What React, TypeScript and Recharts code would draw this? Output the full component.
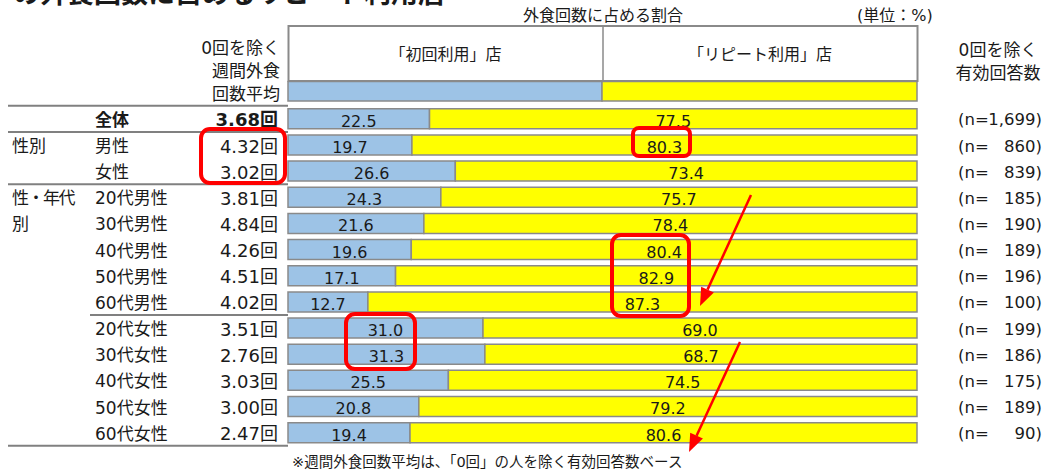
import { BarChart, Bar, XAxis, YAxis, LabelList } from "recharts";

// rows of the table
const categories = [
  "全体",
  "男性",
  "女性",
  "20代男性",
  "30代男性",
  "40代男性",
  "50代男性",
  "60代男性",
  "20代女性",
  "30代女性",
  "40代女性",
  "50代女性",
  "60代女性",
];
const groupLabels = ["", "性別", "", "性・年代", "別", "", "", "", "", "", "", "", ""];
const firstVisit = [22.5, 19.7, 26.6, 24.3, 21.6, 19.6, 17.1, 12.7, 31.0, 31.3, 25.5, 20.8, 19.4];
const repeatVisit = [77.5, 80.3, 73.4, 75.7, 78.4, 80.4, 82.9, 87.3, 69.0, 68.7, 74.5, 79.2, 80.6];
const avgVisits = ["3.68", "4.32", "3.02", "3.81", "4.84", "4.26", "4.51", "4.02", "3.51", "2.76", "3.03", "3.00", "2.47"];
const sampleSizes = [1699, 860, 839, 185, 190, 189, 196, 100, 199, 186, 175, 189, 90];

const W = 1047;
const H = 470;
const PLOT_LEFT = 288;
const PLOT_RIGHT = 917;
const PLOT_TOP = 105.8;
const PLOT_BOTTOM = 445.8;
const ROW_H = (PLOT_BOTTOM - PLOT_TOP) / categories.length;

const FONT = '"DejaVu Sans", "Noto Sans CJK JP", sans-serif';
const INK = "#1a1a1a";
const BLUE = "#9DC3E6";
const YELLOW = "#FFFF00";
const EDGE = "#8a8a8a";
const RED = "#FF0000";

const data = categories.map((name, i) => ({
  name,
  first: firstVisit[i],
  repeat: repeatVisit[i],
}));

// table rule lines: drawn under row index `after`
const separators = [
  { after: -1, x1: 8 },
  { after: 0, x1: 8 },
  { after: 2, x1: 8 },
  { after: 7, x1: 90 },
  { after: 12, x1: 8 },
];

// value label centred in each segment
const renderValue = (props: any) => {
  const vb = props.viewBox && props.viewBox.width != null ? props.viewBox : props;
  const { x, y, width, height } = vb;
  return (
    <text
      x={x + width / 2}
      y={y + height / 2 + 2.5}
      textAnchor="middle"
      dominantBaseline="central"
      fontSize={16}
      fontFamily={FONT}
      fill={INK}
    >
      {Number(props.value).toFixed(1)}
    </text>
  );
};

// row tick: group label, row label, average and n
function RowTick(props: any) {
  const { y, payload } = props;
  const i = categories.indexOf(payload.value);
  const bold = i === 0 ? 700 : 400;
  const ty = y + 1;
  return (
    <g fontFamily={FONT} fill={INK}>
      {groupLabels[i] && (
        <text x={12} y={ty} fontSize={17} dominantBaseline="central" letterSpacing={groupLabels[i].length > 2 ? -1.5 : 0}>
          {groupLabels[i]}
        </text>
      )}
      <text x={95} y={ty} fontSize={17} fontWeight={bold} dominantBaseline="central">
        {categories[i]}
      </text>
      <text x={278} y={ty} fontSize={18} fontWeight={bold} textAnchor="end" dominantBaseline="central">
        {avgVisits[i]}回
      </text>
      <text x={958} y={ty} fontSize={16.5} dominantBaseline="central">
        (n=
      </text>
      <text x={1042} y={ty} fontSize={16.5} textAnchor="end" dominantBaseline="central">
        {sampleSizes[i].toLocaleString("en-US")})
      </text>
    </g>
  );
}

function Arrow({ x1, y1, x2, y2 }: { x1: number; y1: number; x2: number; y2: number }) {
  const ang = Math.atan2(y2 - y1, x2 - x1);
  const len = 18;
  const half = 7;
  const bx = x2 - len * Math.cos(ang);
  const by = y2 - len * Math.sin(ang);
  const px = -Math.sin(ang) * half;
  const py = Math.cos(ang) * half;
  return (
    <g>
      <line x1={x1} y1={y1} x2={bx} y2={by} stroke={RED} strokeWidth={2.5} />
      <polygon points={`${x2},${y2} ${bx + px},${by + py} ${bx - px},${by - py}`} fill={RED} />
    </g>
  );
}

export default function App() {
  const mid = 603;
  return (
    <div style={{ position: "absolute", left: 0, top: 0, width: W, height: H, overflow: "hidden", background: "#fff" }}>
      <BarChart
        width={W}
        height={H}
        data={data}
        layout="vertical"
        margin={{ top: PLOT_TOP, right: W - PLOT_RIGHT, bottom: H - PLOT_BOTTOM, left: 8 }}
      >
        <XAxis type="number" domain={[0, 100]} hide />
        <YAxis
          type="category"
          dataKey="name"
          width={PLOT_LEFT - 8}
          axisLine={false}
          tickLine={false}
          interval={0}
          tick={RowTick}
        />
        <Bar dataKey="first" stackId="a" fill={BLUE} stroke={EDGE} strokeWidth={1.5} barSize={20} isAnimationActive={false}>
          <LabelList dataKey="first" content={renderValue} />
        </Bar>
        <Bar dataKey="repeat" stackId="a" fill={YELLOW} stroke={EDGE} strokeWidth={1.5} barSize={20} isAnimationActive={false}>
          <LabelList dataKey="repeat" content={renderValue} />
        </Bar>
      </BarChart>

      <svg width={W} height={H} style={{ position: "absolute", left: 0, top: 0, pointerEvents: "none" }} fontFamily={FONT}>
        {/* page title, cut off at the top edge as in the source */}
        <text x={-14} y={3} fontSize={27} fontWeight={700} fill={INK}>
          ）の外食回数に占めるリピート利用店
        </text>

        <text x={523} y={15} fontSize={16} fill={INK} dominantBaseline="central">
          外食回数に占める割合
        </text>
        <text x={857} y={15} fontSize={16} fill={INK} dominantBaseline="central">
          (単位：%)
        </text>

        {/* header box */}
        <rect x={PLOT_LEFT + 0.5} y={26} width={PLOT_RIGHT - PLOT_LEFT} height={55} fill="#fff" stroke={EDGE} strokeWidth={2} />
        <line x1={mid} y1={26} x2={mid} y2={81} stroke={EDGE} strokeWidth={1.5} />
        <text x={(PLOT_LEFT + mid) / 2} y={54} fontSize={16} fill={INK} textAnchor="middle" dominantBaseline="central">
          「初回利用」店
        </text>
        <text x={(mid + PLOT_RIGHT) / 2} y={54} fontSize={16} fill={INK} textAnchor="middle" dominantBaseline="central">
          「リピート利用」店
        </text>

        {/* legend swatch bar */}
        <rect x={PLOT_LEFT} y={81.5} width={mid - 1 - PLOT_LEFT} height={19.5} fill={BLUE} stroke={EDGE} strokeWidth={1.5} />
        <rect x={mid - 1} y={81.5} width={PLOT_RIGHT - mid + 1} height={19.5} fill={YELLOW} stroke={EDGE} strokeWidth={1.5} />

        {/* column headings */}
        <g fontSize={17} fill={INK} textAnchor="end" dominantBaseline="central">
          <text x={280} y={48}>0回を除く</text>
          <text x={280} y={71}>週間外食</text>
          <text x={280} y={94}>回数平均</text>
        </g>
        <g fontSize={17} fill={INK} textAnchor="middle" dominantBaseline="central">
          <text x={998} y={50}>0回を除く</text>
          <text x={998} y={73}>有効回答数</text>
        </g>

        {/* table rules */}
        {separators.map((s, k) => {
          const y = PLOT_TOP + (s.after + 1) * ROW_H;
          return <line key={k} x1={s.x1} y1={y} x2={PLOT_LEFT} y2={y} stroke="#808080" strokeWidth={2} />;
        })}

        {/* annotations */}
        <g fill="none" stroke={RED} strokeWidth={4}>
          <rect x={201} y={129} width={84} height={54} rx={9} />
          <rect x={633} y={128} width={57} height={28} rx={6} />
          <rect x={612} y={235} width={77} height={81} rx={9} />
          <rect x={346} y={314} width={69} height={55} rx={9} />
        </g>
        <Arrow x1={751} y1={195} x2={700} y2={306} />
        <Arrow x1={740} y1={342} x2={689} y2={452} />

        <text x={292} y={462} fontSize={14.5} fill={INK} dominantBaseline="central">
          ※週間外食回数平均は、「0回」の人を除く有効回答数ベース
        </text>
      </svg>
    </div>
  );
}
